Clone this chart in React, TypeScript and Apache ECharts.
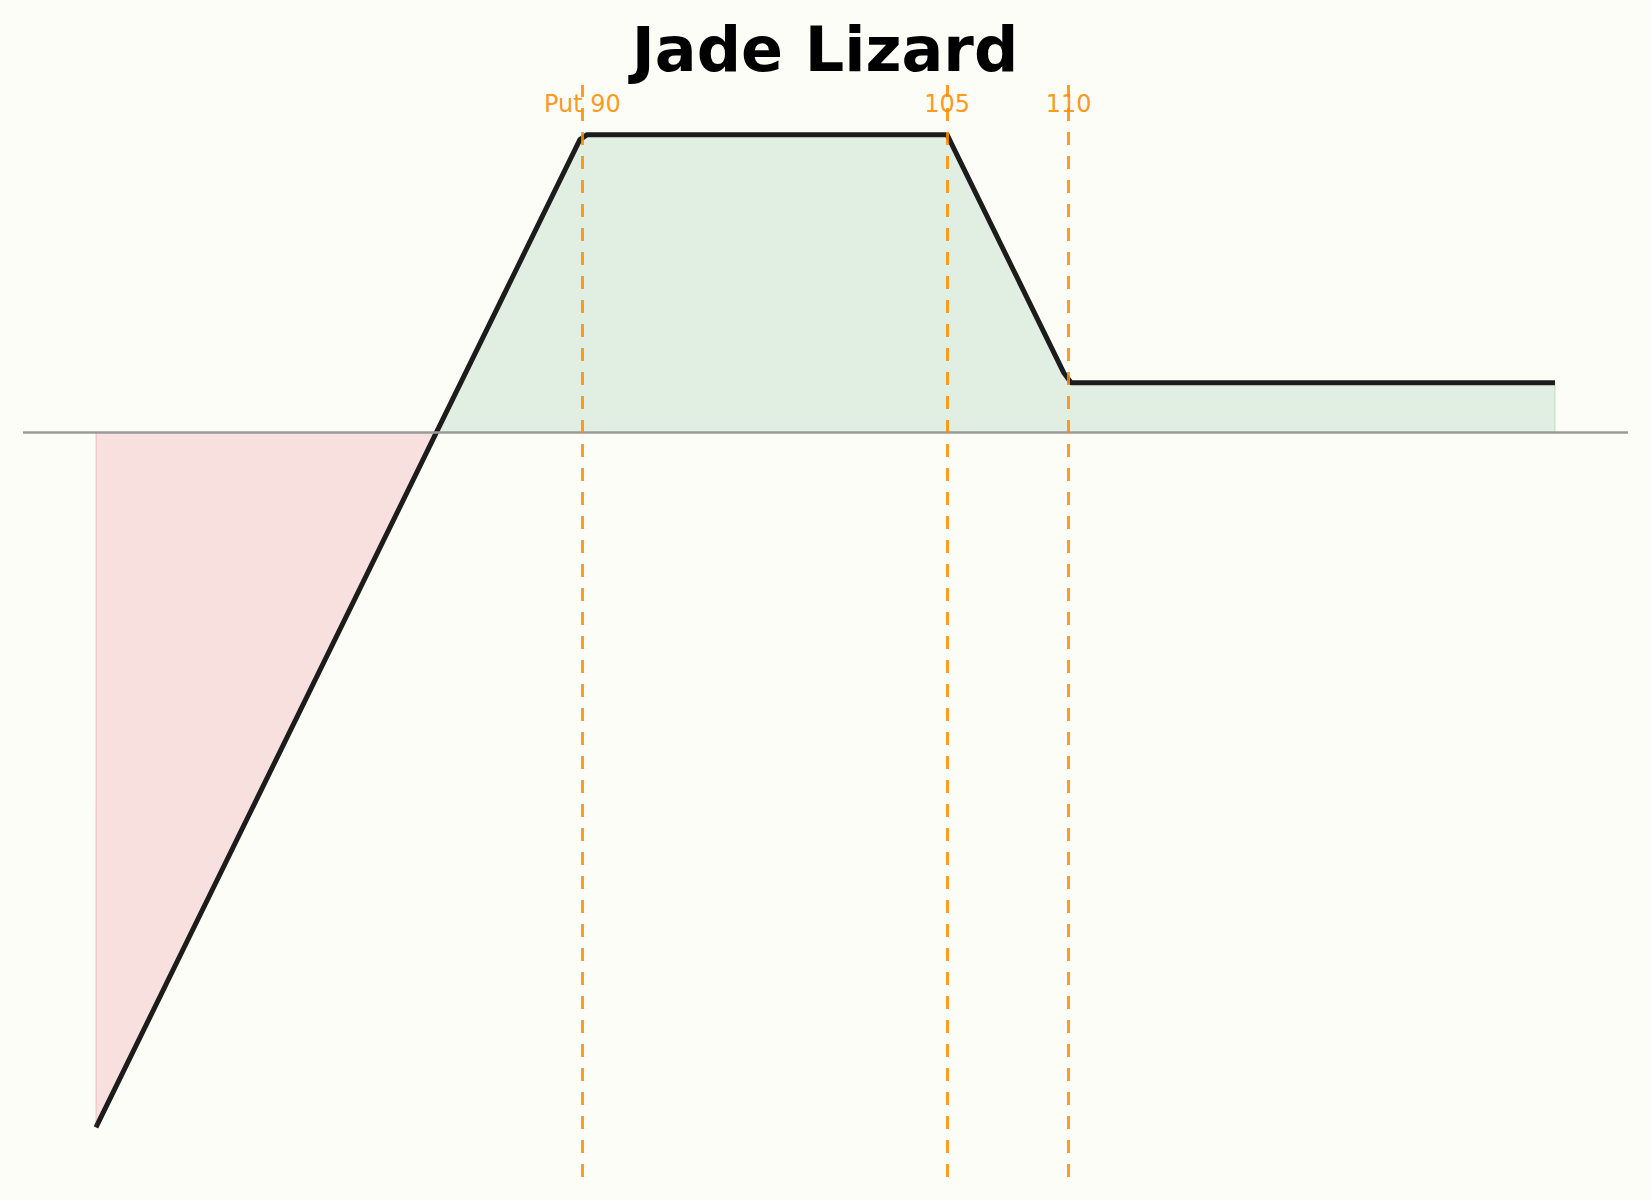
import React, { useEffect, useRef } from "react";
import * as echarts from "echarts";

const TITLE = "Jade Lizard";
// underlying price at expiry vs profit/loss (key points)
const priceX = [70, 84, 89.9, 90.2, 105, 105.3, 109.8, 110.1, 130];
const profitY = [-14, 0, 5.9, 6, 6, 5.7, 1.2, 1, 1];
const strikes = [90, 105, 110];
const strikeLabels = ["Put 90", "105", "110"];
const labelLevel = 6.62;
const xLimits = [67, 133];
const yLimits = [-15, 7];

const BG = "#fdfdf8";
const ORANGE = "#ff8c00";
const FONT = "DejaVu Sans";

export default function App() {
  const ref = useRef<HTMLDivElement>(null);
  useEffect(() => {
    if (!ref.current) return;
    document.body.style.margin = "0";
    document.body.style.background = BG;
    const chart = echarts.init(ref.current, undefined, { renderer: "svg" });
    const pts = priceX.map((x, i) => [x, profitY[i]]);
    const posPts = pts.filter((p) => p[1] >= 0);
    const negPts = pts.filter((p) => p[1] <= 0);
    const first = pts[0];
    const last = pts[pts.length - 1];
    chart.setOption({
      animation: false,
      backgroundColor: BG,
      title: {
        text: TITLE,
        left: "center",
        top: 18,
        padding: 0,
        textStyle: { fontFamily: FONT, fontWeight: "bold", fontSize: 62, color: "#000" },
      },
      grid: { left: 23, right: 22, top: 85, bottom: 23, containLabel: false },
      xAxis: { type: "value", min: xLimits[0], max: xLimits[1], show: false },
      yAxis: { type: "value", min: yLimits[0], max: yLimits[1], show: false },
      series: [
        {
          type: "line",
          name: "refs",
          data: [],
          z: 1,
          markLine: {
            silent: true,
            symbol: "none",
            label: { show: false },
            data: [
              { yAxis: 0, lineStyle: { color: "#9a9a9a", width: 2.7, type: "solid" } },
            ],
          },
        },
        {
          type: "line",
          name: "loss",
          data: negPts,
          showSymbol: false,
          symbol: "none",
          lineStyle: { width: 0, opacity: 0 },
          areaStyle: { color: "rgba(220,60,80,0.15)", origin: 0, opacity: 1 },
          z: 2,
          silent: true,
          markLine: {
            silent: true,
            symbol: "none",
            label: { show: false },
            lineStyle: { color: "rgba(220,60,80,0.18)", width: 1.5, type: "solid" },
            data: [[{ coord: [first[0], 0] }, { coord: [first[0], first[1]] }]],
          },
        },
        {
          type: "line",
          name: "profit",
          data: posPts,
          showSymbol: false,
          symbol: "none",
          lineStyle: { width: 0, opacity: 0 },
          areaStyle: { color: "rgba(90,170,120,0.17)", origin: 0, opacity: 1 },
          z: 2,
          silent: true,
          markLine: {
            silent: true,
            symbol: "none",
            label: { show: false },
            lineStyle: { color: "rgba(90,170,120,0.2)", width: 1.5, type: "solid" },
            data: [[{ coord: [last[0], 0] }, { coord: [last[0], last[1]] }]],
          },
        },
        {
          type: "line",
          name: "strikes",
          data: [],
          z: 3,
          markLine: {
            silent: true,
            symbol: "none",
            label: { show: false },
            data: strikes.map((s) => ({
              xAxis: s,
              lineStyle: { color: ORANGE, width: 3, type: [13, 11], opacity: 0.85 },
            })),
          },
        },
        {
          type: "line",
          name: "payoff",
          data: pts,
          showSymbol: false,
          symbol: "none",
          lineStyle: { width: 5, color: "#1c1c1c", join: "round", cap: "butt" },
          z: 4,
        },
        {
          type: "scatter",
          name: "labels",
          data: strikes.map((s, i) => ({ value: [s, labelLevel], name: strikeLabels[i] })),
          symbolSize: 1,
          itemStyle: { color: "rgba(0,0,0,0)" },
          z: 5,
          label: {
            show: true,
            position: "inside",
            formatter: (p: any) => p.name,
            fontFamily: FONT,
            fontSize: 24,
            color: ORANGE,
            opacity: 0.9,
          },
        },
      ],
    });
    return () => chart.dispose();
  }, []);
  return (
    <div
      ref={ref}
      style={{ position: "fixed", left: 0, top: 0, width: 1650, height: 1200, background: BG }}
    />
  );
}
